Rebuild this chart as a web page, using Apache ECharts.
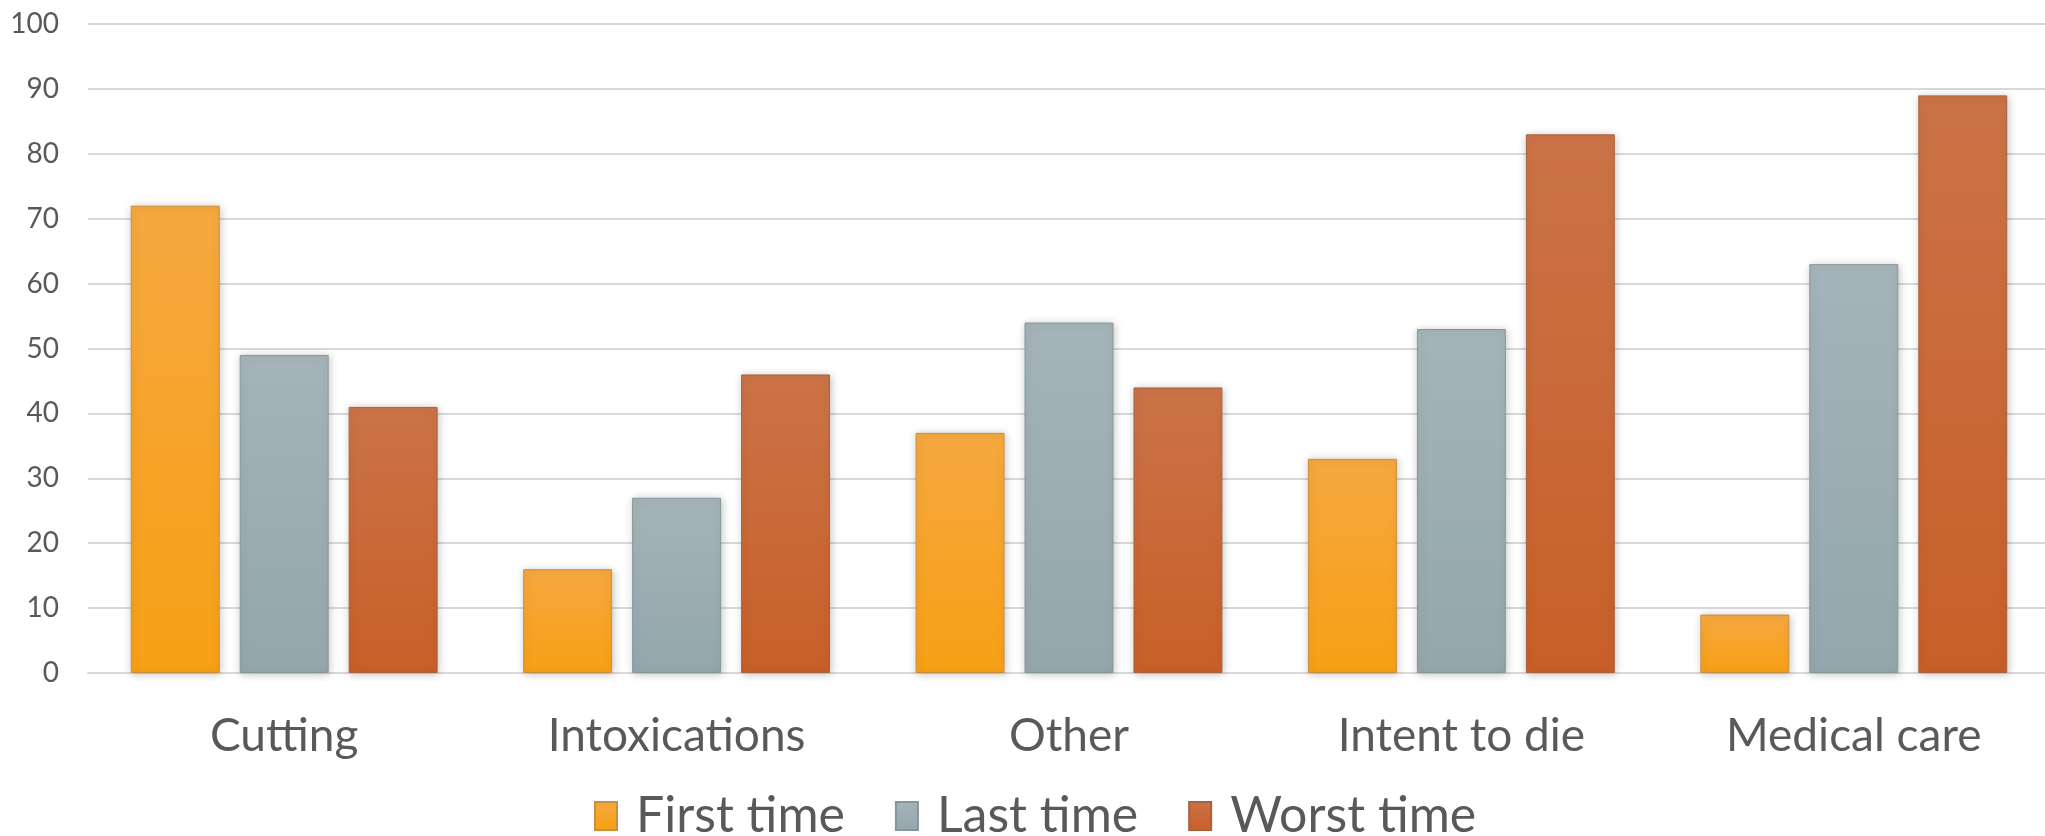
<!DOCTYPE html>
<html>
<head>
<meta charset="utf-8">
<title>Self-harm episodes</title>
<script src="https://cdn.jsdelivr.net/npm/echarts@6/dist/echarts.min.js"></script>
<style>
  html, body { margin: 0; padding: 0; background: #ffffff; }
  #chart { width: 2045px; height: 836px; }
</style>
</head>
<body>
<div id="chart"></div>
<script>
// Categories along the x axis
const categories = ['Cutting', 'Intoxications', 'Other', 'Intent to die', 'Medical care'];

// Series values (percent)
const firstTime = [72, 16, 37, 33, 9];
const lastTime  = [49, 27, 54, 53, 63];
const worstTime = [41, 46, 44, 83, 89];

// Series names for the legend
const seriesNames = ['First time', 'Last time', 'Worst time'];

// Value axis ticks
const yMin = 0, yMax = 100, yStep = 10;

const textColor = '#595959';
const fontFamily = 'Lato, "Open Sans", "DejaVu Sans", sans-serif';

function vGrad(top, bottom) {
  return new echarts.graphic.LinearGradient(0, 0, 0, 1, [
    { offset: 0, color: top },
    { offset: 1, color: bottom }
  ]);
}

const palettes = [
  { fill: vGrad('#F5A83F', '#F7A015'), border: '#C98F40' },
  { fill: vGrad('#A4B4B9', '#93A7AD'), border: '#86969A' },
  { fill: vGrad('#CB7347', '#C85F28'), border: '#A9623E' }
];

function makeSeries(name, data, pal) {
  return {
    name: name,
    type: 'bar',
    data: data,
    barGap: '22.5%',
    barCategoryGap: '21.8%',
    itemStyle: {
      color: pal.fill,
      borderColor: pal.border,
      borderWidth: 1,
      shadowBlur: 8,
      shadowColor: 'rgba(0,0,0,0.22)',
      shadowOffsetX: 1,
      shadowOffsetY: 1
    },
    emphasis: { disabled: true }
  };
}

const chart = echarts.init(document.getElementById('chart'), null, { renderer: 'canvas' });

chart.setOption({
  animation: false,
  backgroundColor: '#ffffff',
  // plot area runs slightly past the right edge of the canvas
  grid: {
    left: 88, width: 1962, top: 24, bottom: 163,
    containLabel: false,
    outerBoundsMode: 'none'
  },
  legend: {
    left: 589,
    top: 786,
    itemWidth: 22,
    itemHeight: 28,
    itemGap: 50,
    icon: 'rect',
    data: seriesNames,
    textStyle: {
      color: textColor,
      fontFamily: fontFamily,
      fontSize: 50,
      padding: [0, 0, 0, 14]
    }
  },
  xAxis: {
    type: 'category',
    data: categories,
    axisLine: { show: true, lineStyle: { color: '#D9D9D9', width: 2 } },
    axisTick: { show: false },
    axisLabel: {
      color: textColor,
      fontFamily: fontFamily,
      fontSize: 46,
      margin: 40
    }
  },
  yAxis: {
    type: 'value',
    min: yMin,
    max: yMax,
    interval: yStep,
    axisLine: { show: false },
    axisTick: { show: false },
    splitLine: { lineStyle: { color: '#D9D9D9', width: 2 } },
    axisLabel: {
      color: textColor,
      fontFamily: fontFamily,
      fontSize: 28,
      margin: 29
    }
  },
  series: [
    makeSeries(seriesNames[0], firstTime, palettes[0]),
    makeSeries(seriesNames[1], lastTime, palettes[1]),
    makeSeries(seriesNames[2], worstTime, palettes[2])
  ]
});
</script>
</body>
</html>
